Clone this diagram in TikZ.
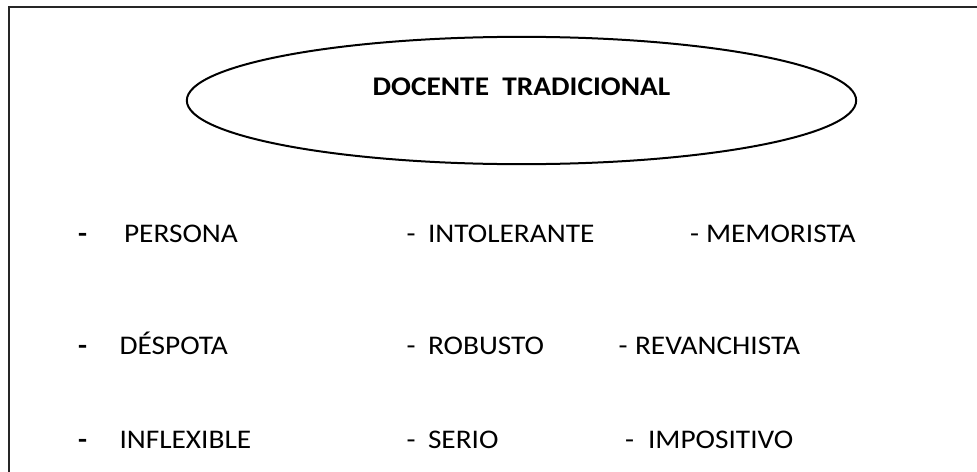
\documentclass[tikz,border=0pt]{standalone}
\usepackage{fontspec}
\setmainfont[FakeStretch=1.09]{Carlito}
\usetikzlibrary{shapes.geometric}
\begin{document}
\begin{tikzpicture}[x=0.75pt,y=-0.75pt,
  txt/.style={anchor=base west, inner sep=0pt, outer sep=0pt, font=\fontsize{20.2}{24}\selectfont},
  dsh/.style={txt},
  bigdsh/.style={txt, font=\fontsize{20.2}{24}\selectfont\bfseries},
  frame/.style={draw=black!85, line width=1.4pt},
  oval/.style={draw, ellipse, line width=1.5pt, inner sep=0pt, minimum width=502pt, minimum height=95.5pt}]
\useasboundingbox (0,0) rectangle (977,471);
\clip (0,0) rectangle (977,471);
\draw[frame] (9,7.3) rectangle (1000,500);
\node[oval] (ov) at (521.5,100.5) {};
\node[anchor=base, inner sep=0pt, font=\fontsize{20.2}{24}\selectfont\bfseries] (title) at (521.5,95.7) {DOCENTE\ \ TRADICIONAL};
% row 1
\node[bigdsh] (d11) at (78,242) {-};
\node[txt] (w11) at (124,242) {PERSONA};
\node[dsh] (d12) at (406.5,242) {-};
\node[txt] (w12) at (428,242) {INTOLERANTE};
\node[dsh] (d13) at (690,242) {-};
\node[txt] (w13) at (706,242) {MEMORISTA};
% row 2
\node[bigdsh] (d21) at (78,354) {-};
\node[txt] (w21) at (119.5,354) {DÉSPOTA};
\node[dsh] (d22) at (406.5,354) {-};
\node[txt] (w22) at (428,354) {ROBUSTO};
\node[dsh] (d23) at (618.5,354) {-};
\node[txt] (w23) at (635,354) {REVANCHISTA};
% row 3
\node[bigdsh] (d31) at (78,448) {-};
\node[txt] (w31) at (119.5,448) {INFLEXIBLE};
\node[dsh] (d32) at (406.5,448) {-};
\node[txt] (w32) at (428,448) {SERIO};
\node[dsh] (d33) at (625,448) {-};
\node[txt] (w33) at (648,448) {IMPOSITIVO};
\end{tikzpicture}
\end{document}
